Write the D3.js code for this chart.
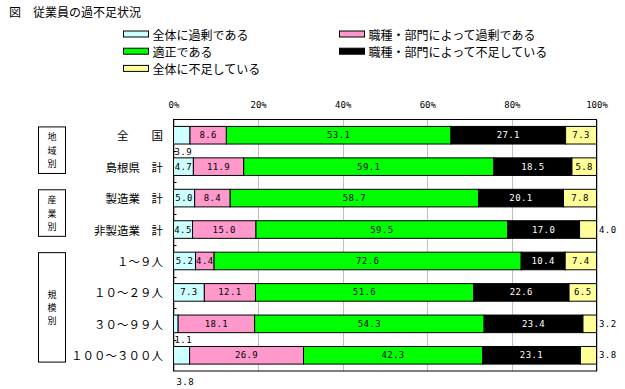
<!DOCTYPE html>
<html>
<head>
<meta charset="utf-8">
<script src="https://cdn.jsdelivr.net/npm/d3@7"></script>
<style>
  body { margin: 0; background: #fff; }
  svg { display: block; }
</style>
</head>
<body>
<div id="chart"></div>
<script>
// data
var categories = ['全　　国', '島根県　計', '製造業　計', '非製造業　計', '１～９人', '１０～２９人', '３０～９９人', '１００～３００人'];
var seriesNames = ['全体に過剰である', '職種・部門によって過剰である', '適正である', '職種・部門によって不足している', '全体に不足している'];
var excessAll  = [3.9, 4.7, 5.0, 4.5, 5.2, 7.3, 1.1, 3.8];
var excessDept = [8.6, 11.9, 8.4, 15.0, 4.4, 12.1, 18.1, 26.9];
var adequate   = [53.1, 59.1, 58.7, 59.5, 72.6, 51.6, 54.3, 42.3];
var shortDept  = [27.1, 18.5, 20.1, 17.0, 10.4, 22.6, 23.4, 23.1];
var shortAll   = [7.3, 5.8, 7.8, 4.0, 7.4, 6.5, 3.2, 3.8];
var groupNames = ['地域別', '産業別', '規模別'];
var groupRows  = [[0, 1], [2, 3], [4, 7]];
var tickValues = [0, 20, 40, 60, 80, 100];

var seriesValues = [excessAll, excessDept, adequate, shortDept, shortAll];
var colors = ['#ccffff', '#ff99cc', '#00ff00', '#000000', '#ffff99'];
var labelColors = ['#000', '#000', '#000', '#fff', '#000'];

// labels Excel put outside the bars (row, series, where)
var movedLabels = [
  {row: 0, s: 0, at: 'below'},
  {row: 3, s: 4, at: 'right'},
  {row: 6, s: 0, at: 'below'},
  {row: 6, s: 4, at: 'right'},
  {row: 7, s: 0, at: 'bottom'},
  {row: 7, s: 4, at: 'right'}
];

var W = 625, H = 389;
var jpFont = '"Noto Sans CJK JP", sans-serif';
var numFont = '"DejaVu Sans Mono", monospace';

var svg = d3.select('#chart').append('svg')
  .attr('width', W).attr('height', H);

// title
svg.append('text')
  .attr('x', 9).attr('y', 11.5)
  .attr('dominant-baseline', 'central')
  .style('font-family', jpFont).style('font-size', '12px')
  .text('図　従業員の過不足状況');

// legend
var legend = svg.append('g');
seriesNames.forEach(function(name, i){
  var col = i % 2, row = Math.floor(i / 2);
  var sx = col == 0 ? 123.5 : 339.5;
  var ty = 34 + row * 17.2;
  legend.append('rect')
    .attr('x', sx).attr('y', ty - 3)
    .attr('width', 25).attr('height', 6)
    .attr('fill', colors[i]).attr('stroke', '#000').attr('stroke-width', 1);
  legend.append('text')
    .attr('x', sx + 29).attr('y', ty)
    .attr('dominant-baseline', 'central')
    .style('font-family', jpFont).style('font-size', '12px')
    .text(name);
});

// scales
var x = d3.scaleLinear().domain([0, 100]).range([173.5, 596.5]);
var y = d3.scaleBand().domain(d3.range(categories.length))
  .range([119.5, 371]).paddingInner(0.44).paddingOuter(0.22);

// gridlines + top tick labels
var xAxis = d3.axisTop(x).tickValues(tickValues)
  .tickFormat(function(d){ return d + '%'; })
  .tickSize(-(371 - 119.5)).tickPadding(12);
var gx = svg.append('g')
  .attr('transform', 'translate(0,119.5)')
  .call(xAxis);
gx.select('.domain').remove();
gx.selectAll('.tick line').attr('stroke', '#c0c0c0').attr('shape-rendering', 'crispEdges');
gx.selectAll('.tick text')
  .style('font-family', numFont).style('font-size', '9px').attr('fill', '#000');

// stacked bars
var totals = categories.map(function(c, r){
  return d3.sum(seriesValues, function(v){ return v[r]; });
});
var segs = [];
categories.forEach(function(c, r){
  var acc = 0;
  seriesValues.forEach(function(v, s){
    var p = v[r] / totals[r] * 100;
    segs.push({row: r, s: s, v: v[r], x0: acc, x1: acc + p});
    acc += p;
  });
});

svg.append('g').selectAll('rect')
  .data(segs).enter().append('rect')
  .attr('x', function(d){ return x(d.x0); })
  .attr('width', function(d){ return x(d.x1) - x(d.x0); })
  .attr('y', function(d){ return y(d.row); })
  .attr('height', y.bandwidth())
  .attr('fill', function(d){ return colors[d.s]; })
  .attr('stroke', '#000').attr('stroke-width', 1);

// plot frame
svg.append('rect')
  .attr('x', x(0)).attr('y', 119.5)
  .attr('width', x(100) - x(0)).attr('height', 371 - 119.5)
  .attr('fill', 'none').attr('stroke', '#000').attr('stroke-width', 1);

// category ticks on the inside of the left axis
var bounds = d3.range(1, categories.length).map(function(i){ return y(i) - y.step() * y.paddingInner() / 2; });
svg.append('g').selectAll('line')
  .data(bounds).enter().append('line')
  .attr('x1', x(0)).attr('x2', x(0) + 3)
  .attr('y1', function(d){ return Math.round(d) + 0.5; })
  .attr('y2', function(d){ return Math.round(d) + 0.5; })
  .attr('stroke', '#000');

// category labels
svg.append('g').selectAll('text')
  .data(categories).enter().append('text')
  .attr('x', 163).attr('y', function(d, i){ return y(i) + y.bandwidth() / 2; })
  .attr('text-anchor', 'end')
  .attr('dominant-baseline', 'central')
  .style('font-family', jpFont).style('font-size', '11.5px')
  .text(function(d){ return d; });

// value labels
var lbl = svg.append('g');
segs.forEach(function(d){
  var moved = movedLabels.find(function(m){ return m.row == d.row && m.s == d.s; });
  var tx = (x(d.x0) + x(d.x1)) / 2, ty = y(d.row) + y.bandwidth() / 2, anchor = 'middle';
  var fill = labelColors[d.s];
  if (moved){
    fill = '#000';
    if (moved.at == 'right'){ tx = x(100) + 2.5; anchor = 'start'; }
    if (moved.at == 'below'){ tx = x(d.x0) + 1; anchor = 'start'; ty = y(d.row) + y.bandwidth() + 7.5; }
    if (moved.at == 'bottom'){ tx = x(d.x0) + 3; anchor = 'start'; ty = y(d.row) + y.bandwidth() + 17.5; }
  }
  lbl.append('text')
    .attr('x', tx).attr('y', ty)
    .attr('text-anchor', anchor)
    .attr('dominant-baseline', 'central')
    .attr('fill', fill)
    .style('font-family', numFont).style('font-size', '9px')
    .style('letter-spacing', '0.4px')
    .text(d.v.toFixed(1));
});

// group boxes
groupNames.forEach(function(name, g){
  var top = y(groupRows[g][0]) + 0.5;
  var bot = y(groupRows[g][1]) + y.bandwidth() - 2;
  svg.append('rect')
    .attr('x', 38.5).attr('y', top)
    .attr('width', 27).attr('height', bot - top)
    .attr('fill', '#fff').attr('stroke', '#000').attr('stroke-width', 1);
  var mid = (top + bot) / 2;
  name.split('').forEach(function(ch, k){
    svg.append('text')
      .attr('x', 52).attr('y', mid + (k - 1) * 13.3)
      .attr('text-anchor', 'middle')
      .attr('dominant-baseline', 'central')
      .style('font-family', jpFont).style('font-size', '9px')
      .text(ch);
  });
});
</script>
</body>
</html>
